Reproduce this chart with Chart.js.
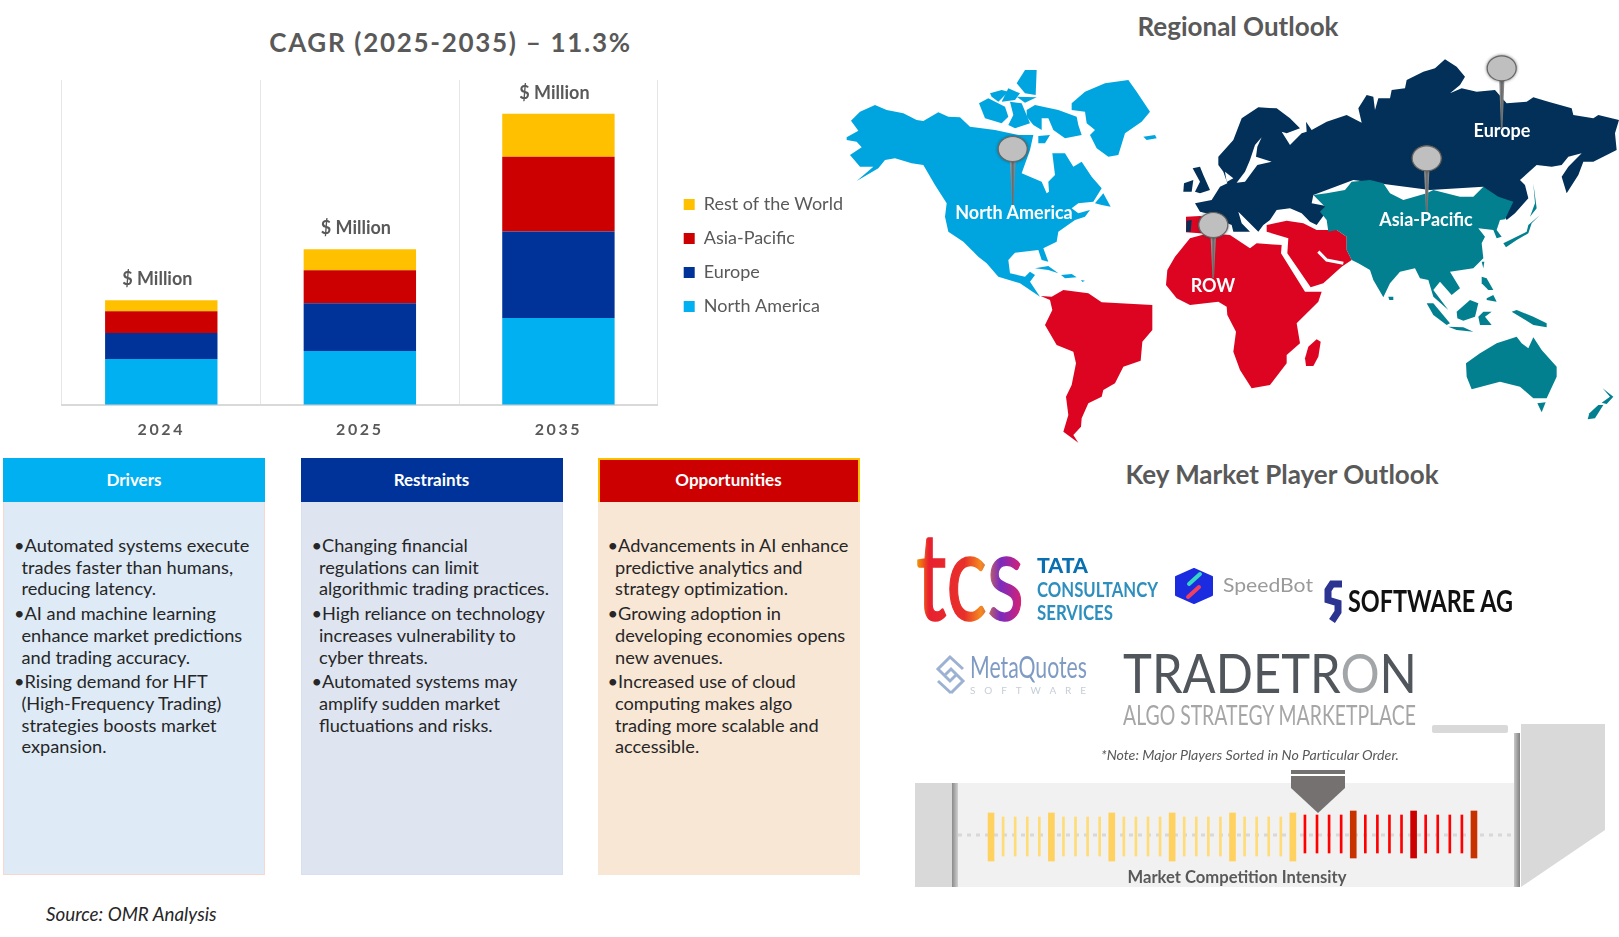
<!DOCTYPE html>
<html>
<head>
<meta charset="utf-8">
<title>CAGR (2025-2035)</title>
<script src="https://cdn.jsdelivr.net/npm/chart.js@4"></script>
<style>
  html, body { margin: 0; padding: 0; background: #fff; }
  #page { position: relative; width: 1619px; height: 937px; overflow: hidden; font-family: Lato, sans-serif; }
  canvas, svg { position: absolute; }
  .lbl { position: absolute; transform: translate(-50%, -50%); white-space: nowrap; }
  .title { color: #595959; font-weight: 700; font-size: 26px; }
  .pin { color: #fff; font-weight: 700; font-size: 18px; }
  .head { position: absolute; top: 458px; width: 262px; height: 44px; line-height: 44px; color: #fff; font-weight: 700; font-size: 17px; text-align: center; box-sizing: border-box; }
  .body { position: absolute; top: 502px; width: 262px; height: 373px; box-sizing: border-box; padding: 33px 0 0 9px; font-size: 18.2px; line-height: 21.7px; color: #262626; white-space: nowrap; }
  .body div { margin-bottom: 3px; padding-left: 8.5px; text-indent: -7.5px; }
</style>
</head>
<body>
<div id="page">
  <div class="lbl title" style="left:450.5px;top:42px;letter-spacing:1.7px">CAGR (2025-2035) – 11.3%</div>
  <div class="lbl title" style="left:1238px;top:26px">Regional Outlook</div>
  <div class="lbl title" style="left:1282px;top:474px">Key Market Player Outlook</div>

  <canvas id="marketChart" width="860" height="374" style="left:0;top:80px"></canvas>

  <div class="head" style="left:3px;background:#00b0f0">Drivers</div>
  <div class="body" style="left:3px;background:#deebf7;border:1px solid #f8d7cf;border-top:0">
    <div>•Automated systems execute<br>trades faster than humans,<br>reducing latency.</div>
    <div>•AI and machine learning<br>enhance market predictions<br>and trading accuracy.</div>
    <div>•Rising demand for HFT<br>(High-Frequency Trading)<br>strategies boosts market<br>expansion.</div>
  </div>
  <div class="head" style="left:300.5px;background:#003399">Restraints</div>
  <div class="body" style="left:300.5px;background:#dee5f1;border:1px solid #d6e0ee;border-top:0">
    <div>•Changing financial<br>regulations can limit<br>algorithmic trading practices.</div>
    <div>•High reliance on technology<br>increases vulnerability to<br>cyber threats.</div>
    <div>•Automated systems may<br>amplify sudden market<br>fluctuations and risks.</div>
  </div>
  <div class="head" style="left:597.5px;background:#cc0000;border:2px solid #ffc000;border-bottom:0;line-height:40px">Opportunities</div>
  <div class="body" style="left:597.5px;background:#f9e7d6">
    <div>•Advancements in AI enhance<br>predictive analytics and<br>strategy optimization.</div>
    <div>•Growing adoption in<br>developing economies opens<br>new avenues.</div>
    <div>•Increased use of cloud<br>computing makes algo<br>trading more scalable and<br>accessible.</div>
  </div>
  <div class="lbl" style="left:46px;top:913px;transform:translateY(-50%);font-style:italic;font-size:18.8px;color:#262626">Source: OMR Analysis</div>

  <!-- world map outlines, each group traced at 3x from its own corner -->
  <svg style="left:0;top:0;filter:blur(.3px)" width="1619" height="937">
    <defs>
      <filter id="pinShadow" x="-40%" y="-40%" width="180%" height="180%"><feDropShadow dx="0" dy="0" stdDeviation="1.5" flood-color="#333" flood-opacity=".7"/></filter>
      <linearGradient id="needle" x1="0" y1="0" x2="1" y2="0"><stop offset="0" stop-color="#aaa"/><stop offset=".5" stop-color="#666"/><stop offset="1" stop-color="#999"/></linearGradient>
    </defs>
    <g transform="translate(845 60) scale(.33333)" fill="#00a5df">
      <path d="M5,232 L40,212 L18,182 L45,155 L90,135 L125,150 L175,160 L215,180 L235,183 L280,157 L310,170 L345,172 L375,200 L410,205 L450,210 L520,225 L565,225 L555,270 L530,340 L590,365 L605,400 L612,395 L610,365 L630,345 L622,280 L660,280 L685,320 L710,305 L740,350 L770,385 L745,425 L700,430 L680,445 L700,460 L735,450 L720,470 L690,480 L640,515 L635,545 L595,565 L610,605 L590,600 L580,570 L510,578 L490,600 L495,640 L540,650 L555,635 L570,645 L555,665 L585,710 L525,670 L460,650 L425,610 L400,590 L355,545 L310,515 L300,470 L305,430 L270,375 L235,315 L200,310 L150,295 L120,300 L100,325 L35,363 L85,320 L45,320 L15,285 L50,262 L35,245 L5,240 Z"/>
      <path d="M515,70 L540,30 L575,30 L572,105 L540,100 Z"/>
      <path d="M435,100 L470,90 L490,95 L460,125 L440,110 Z"/>
      <path d="M490,85 L525,100 L510,120 L470,125 Z"/>
      <path d="M515,110 L575,112 L540,128 Z"/>
      <path d="M402,130 L430,115 L480,140 L490,170 L470,190 L420,175 Z"/>
      <path d="M495,125 L530,130 L555,190 L510,205 L490,195 L505,165 Z"/>
      <path d="M545,150 L570,135 L640,150 L695,170 L700,195 L710,225 L660,235 L625,210 L610,175 L590,175 L590,210 L565,195 L545,170 Z"/>
      <path d="M580,228 L615,225 L600,250 L580,250 Z"/>
      <path d="M680,130 L720,95 L780,70 L850,60 L875,95 L895,125 L915,155 L890,185 L840,220 L820,285 L790,290 L755,265 L735,225 L750,210 L725,190 L720,155 L680,150 Z"/>
      <path d="M895,230 L930,225 L935,235 L905,240 Z"/>
      <path d="M750,430 L775,400 L797,440 L770,435 Z"/>
      <path d="M570,625 L610,618 L640,640 L610,630 Z"/>
      <path d="M648,645 L680,642 L695,652 L660,655 Z"/>
      <path d="M708,660 L720,662 L712,666 Z"/>
      <path d="M370,570 L385,575 L410,622 L395,615 Z" fill="#fff"/>
    </g>
    <g transform="translate(1020 270) scale(.33333)" fill="#dc0420">
      <path d="M62,78 L95,80 L130,60 L205,70 L245,97 L397,105 L397,180 L367,215 L362,272 L310,290 L285,340 L250,360 L245,380 L205,400 L185,445 L183,470 L160,495 L175,518 L130,485 L145,435 L138,380 L155,345 L168,280 L160,245 L110,225 L75,165 L97,120 L90,90 Z"/>
    </g>
    <g transform="translate(1170 50) scale(.33333)" fill="#023059">
      <path d="M75,460 L125,450 L150,410 L172,400 L160,365 L145,345 L145,320 L190,270 L215,205 L265,172 L320,175 L360,205 L390,235 L350,250 L335,245 L360,285 L395,250 L410,245 L408,215 L425,240 L470,215 L530,195 L575,218 L565,175 L590,135 L610,140 L615,180 L625,145 L660,145 L665,120 L705,115 L710,90 L760,65 L795,55 L825,28 L860,50 L885,80 L870,105 L840,130 L875,115 L920,125 L975,120 L1010,160 L1070,155 L1090,142 L1135,155 L1205,175 L1210,195 L1270,205 L1285,195 L1347,210 L1335,250 L1340,300 L1270,335 L1240,335 L1225,375 L1190,430 L1175,380 L1195,350 L1235,310 L1195,320 L1175,345 L1145,350 L1100,345 L1050,390 L1065,405 L1075,445 L1035,490 L1010,510 L985,470 L940,410 L780,420 L550,390 L430,435 L425,460 L480,470 L440,525 L420,515 L395,490 L360,475 L320,480 L300,510 L280,525 L265,545 L235,515 L205,485 L215,520 L240,545 L190,545 L185,525 L150,510 L130,495 L90,485 Z"/>
      <path d="M68,355 L90,350 L100,375 L120,420 L90,430 L75,425 L90,395 Z"/>
      <path d="M42,400 L70,390 L65,425 L40,425 Z"/>
      <path d="M275,262 L255,285 L240,330 L225,365 L200,398 L225,395 L262,345 L305,335 L258,320 L262,290 Z" fill="#fff"/>
      <path d="M165,365 L190,385 L170,396 Z" fill="#fff"/>
    </g>
    <g transform="translate(1150 200) scale(.33333)">
      <g fill="#dc0420">
        <path d="M52,210 L75,170 L120,115 L175,100 L240,105 L300,145 L320,130 L395,135 L393,160 L465,275 L515,275 L505,305 L440,370 L450,430 L410,465 L410,490 L360,555 L305,565 L270,510 L250,455 L258,395 L232,345 L230,320 L205,305 L120,315 L80,295 L48,255 Z"/>
        <path d="M350,75 L410,62 L460,70 L500,90 L560,90 L590,110 L590,150 L605,180 L575,200 L520,250 L482,262 L412,160 L415,115 L350,95 Z"/>
        <path d="M500,418 L512,425 L505,470 L490,498 L468,498 L465,475 L475,440 Z"/>
        <path d="M108,50 L150,48 L235,65 L225,98 L150,100 L108,97 Z"/>
      </g>
      <path d="M110,62 L125,60 L122,95 L108,95 Z" fill="#023059"/>
      <path d="M505,155 L530,180 L580,190" fill="none" stroke="#fff" stroke-width="9"/>
      <g fill="#03808f">
        <path d="M490,-15 L530,-20 L585,-30 L605,-55 L660,-60 L700,-50 L720,-20 L760,0 L830,-20 L850,-30 L930,-10 L970,-10 L1000,-40 L1045,-10 L1090,5 L1065,58 L1050,60 L1040,90 L1055,110 L1040,115 L1030,90 L985,85 L1005,110 L995,130 L1000,175 L970,205 L900,215 L930,265 L905,285 L870,245 L850,270 L895,330 L850,290 L835,240 L810,235 L795,205 L750,215 L720,250 L700,292 L670,240 L660,210 L625,190 L605,180 L590,150 L590,110 L560,90 L535,95 L530,60 L510,35 L525,20 Z"/>
        <path d="M715,290 L730,290 L730,300 L718,300 Z"/>
        <path d="M1170,45 L1135,75 L1130,95 L1080,120 L1060,130 L1068,142 L1100,120 L1135,100 L1145,70 Z"/>
        <path d="M1150,-50 L1160,25 L1140,50 L1155,10 Z"/>
        <path d="M995,185 L1003,185 L1000,205 Z"/>
        <path d="M995,230 L1010,235 L1030,270 L1015,270 L995,250 Z"/>
        <path d="M1010,295 L1030,285 L1040,305 L1010,300 Z"/>
        <path d="M920,335 L960,300 L985,310 L975,350 L940,362 L922,355 Z"/>
        <path d="M830,310 L850,310 L900,370 L890,375 L850,345 Z"/>
        <path d="M895,380 L940,382 L970,395 L920,390 Z"/>
        <path d="M985,350 L1000,335 L1025,335 L1005,350 L1025,375 L990,375 Z"/>
        <path d="M1085,335 L1100,330 L1150,350 L1190,370 L1190,382 L1150,375 L1110,350 Z"/>
        <path d="M948,490 L990,460 L1040,430 L1100,410 L1115,430 L1135,445 L1150,412 L1175,450 L1220,500 L1220,530 L1190,595 L1150,595 L1110,560 L1050,545 L965,568 L950,530 Z"/>
        <path d="M1162,610 L1187,607 L1175,637 Z"/>
        <path d="M1358,565 L1390,590 L1370,612 L1355,608 L1380,590 Z"/>
        <path d="M1345,615 L1360,615 L1335,655 L1313,658 L1318,640 Z"/>
      </g>
    </g>
    <g fill="url(#needle)">
      <polygon points="1010,158 1015.5,158 1013.5,205 1012,205"/>
      <polygon points="1499,77 1504.5,77 1502.5,128 1501,128"/>
      <polygon points="1424,167 1429.5,167 1427.5,213 1426,213"/>
      <polygon points="1210.5,234 1216,234 1214,278 1212.5,278"/>
    </g>
    <g fill="#bfbfbf" stroke="#666" stroke-width="1.2" filter="url(#pinShadow)">
      <ellipse cx="1012.7" cy="149" rx="14.5" ry="12.5"/>
      <ellipse cx="1501.7" cy="68.3" rx="14.5" ry="12.5"/>
      <ellipse cx="1426.7" cy="158.3" rx="14.5" ry="12.5"/>
      <ellipse cx="1213.3" cy="225" rx="14.5" ry="12.5"/>
    </g>
  </svg>
  <div class="lbl pin" style="left:1014px;top:212px">North America</div>
  <div class="lbl pin" style="left:1426px;top:219px">Asia-Pacific</div>
  <div class="lbl pin" style="left:1502px;top:130px">Europe</div>
  <div class="lbl pin" style="left:1213px;top:285px">ROW</div>

  <!-- player logos, redrawn roughly as text -->
  <svg style="left:0;top:0;filter:blur(.4px)" width="1619" height="937" font-family="Lato, sans-serif">
    <defs>
      <linearGradient id="tcsGrad" x1="0" y1="0" x2="1" y2="0">
        <stop offset="0" stop-color="#f2a100"/><stop offset=".12" stop-color="#e8202f"/><stop offset=".45" stop-color="#e8302a"/><stop offset=".6" stop-color="#f58a1f"/><stop offset=".78" stop-color="#7a2bc0"/><stop offset="1" stop-color="#e0206a"/>
      </linearGradient>
    </defs>
    <text x="916" y="620" font-size="122" fill="url(#tcsGrad)" stroke="url(#tcsGrad)" stroke-width="1.5" textLength="108" lengthAdjust="spacingAndGlyphs">tcs</text>
    <text x="1037" y="573" font-size="20" font-weight="900" fill="#0a6fb0" textLength="51" lengthAdjust="spacingAndGlyphs">TATA</text>
    <text x="1037" y="597" font-size="21" font-weight="700" fill="#2e8fbe" textLength="121" lengthAdjust="spacingAndGlyphs">CONSULTANCY</text>
    <text x="1037" y="620" font-size="21" font-weight="700" fill="#2e8fbe" textLength="76" lengthAdjust="spacingAndGlyphs">SERVICES</text>

    <path d="M1194,569 L1212,577 L1212,595 L1194,603 L1176,595 L1176,577 Z" fill="#1a2be0" stroke="#1a2be0" stroke-width="2" stroke-linejoin="round"/>
    <path d="M1189,584 L1200,574" stroke="#37d6c2" stroke-width="4" stroke-linecap="round"/>
    <path d="M1188,597 L1199,587" stroke="#f0405f" stroke-width="4" stroke-linecap="round"/>
    <text x="1223" y="592" font-size="19" fill="#9a9a9a" textLength="90" lengthAdjust="spacingAndGlyphs">SpeedBot</text>

    <path d="M1342,584 L1332,584 L1328,590 L1328,600 L1338,603 L1338,612 L1332,621" fill="none" stroke="#2b3490" stroke-width="7"/>
    <text x="1348" y="612" font-size="31" font-weight="700" fill="#111" textLength="165" lengthAdjust="spacingAndGlyphs">SOFTWARE AG</text>

    <path d="M950,657 L938,669 L950,681 L956,675 M951,693 L963,681 L951,669 L945,675 M944,663 L950,657 L963,669 M938,681 L951,693" fill="none" stroke="#9db2d2" stroke-width="3"/>
    <text x="970" y="678" font-size="31" fill="#7f9bc4" textLength="117" lengthAdjust="spacingAndGlyphs">MetaQuotes</text>
    <text x="970" y="694" font-size="10" fill="#c5ced8" textLength="116" lengthAdjust="spacing">SOFTWARE</text>

    <text x="1123" y="693" font-size="55" fill="#50565c" textLength="294" lengthAdjust="spacingAndGlyphs">TRADETR<tspan fill="#a3a6a8">O</tspan>N</text>
    <text x="1123" y="725" font-size="26" fill="#a6a6a6" textLength="293" lengthAdjust="spacingAndGlyphs">ALGO STRATEGY MARKETPLACE</text>
  </svg>

  <!-- intensity strip -->
  <svg style="left:0;top:0" width="1619" height="937">
    <defs>
      <linearGradient id="edge" x1="0" y1="0" x2="1" y2="0"><stop offset="0" stop-color="#8a8a8a"/><stop offset="1" stop-color="#d0d0d0"/></linearGradient>
      <linearGradient id="edgeR" x1="0" y1="0" x2="1" y2="0"><stop offset="0" stop-color="#c8c8c8"/><stop offset="1" stop-color="#808080"/></linearGradient>
    </defs>
    <rect x="952" y="783" width="568" height="104" fill="#f1f1f1"/>
    <rect x="915" y="783" width="37" height="104" fill="#d9d9d9"/>
    <rect x="952" y="783" width="6" height="104" fill="url(#edge)"/>
    <rect x="1432" y="725" width="76" height="8" rx="2" fill="#d9d9d9"/>
    <polygon points="1521,724 1605,724 1605,830 1521,887" fill="#d9d9d9"/>
    <rect x="1514" y="733" width="6" height="154" fill="url(#edgeR)"/>
    <line x1="958" y1="835" x2="1514" y2="835" stroke="#d8d8d8" stroke-width="3" stroke-dasharray="4 5"/>
    <rect x="1291" y="770" width="54" height="4" fill="#767171"/>
    <polygon points="1291,776 1345,776 1345,788 1318,813 1291,788" fill="#767171"/>
  </svg>
  <canvas id="intensityChart" width="495" height="105" style="left:985px;top:783px"></canvas>
  <div class="lbl" style="left:1250px;top:754px;font-style:italic;font-size:14.2px;color:#595959">*Note: Major Players Sorted in No Particular Order.</div>
  <div class="lbl" style="left:1237px;top:876.5px;font-weight:700;font-size:16.6px;color:#595959">Market Competition Intensity</div>
</div>

<script>
const years = ['2024', '2025', '2035'];
const northAmerica = [46, 54, 87];
const europe = [26, 48, 87];
const asiaPacific = [22, 33, 75];
const restOfWorld = [11, 21, 43];
const unitLabel = '$ Million';

// tick strip: [low, high] of each tick, one row per five ticks
const majorTicks = [
    [27, 75], null, null, null, null,
    [27, 75], null, null, null, null,
    [27, 75], null, null, null, null,
    [27, 75], null, null, null, null,
    [27, 75], null, null, null, null,
    [27, 75], null, null, null, null,
    [30, 77], null, null, null, null,
    [30, 77], null, null, null, null,
    [30, 77]
];
const minorTicks = [
    null, [32, 71], [32, 71], [32, 71], [32, 71],
    null, [32, 71], [32, 71], [32, 71], [32, 71],
    null, [32, 71], [32, 71], [32, 71], [32, 71],
    null, [32, 71], [32, 71], [32, 71], [32, 71],
    null, [32, 71], [32, 71], [32, 71], [32, 71],
    null, [35, 73], [35, 73], [35, 73], [35, 73],
    null, [35, 73], [35, 73], [35, 73], [35, 73],
    null, [35, 73], [35, 73], [35, 73], [35, 73],
    null
];

// moves the legend to its place and writes the unit above each stack
const stackLabels = {
    id: 'stackLabels',
    afterLayout(chart) {
        const legend = chart.legend;
        const dx = chart.chartArea.right + 10 - legend.left;
        const dy = 175.5 - (legend.top + legend.bottom) / 2;
        legend.left += dx;
        legend.right += dx;
        legend.top += dy;
        legend.bottom += dy;
    },
    afterDatasetsDraw(chart) {
        chart.ctx.letterSpacing = '2.6px';
    },
    afterDraw(chart) {
        const ctx = chart.ctx;
        ctx.letterSpacing = '0px';
        const top = chart.getDatasetMeta(3).data;
        ctx.save();
        ctx.font = '700 18px Lato';
        ctx.fillStyle = '#595959';
        ctx.textAlign = 'center';
        top.forEach((bar) => ctx.fillText(unitLabel, bar.x - 4, bar.y - 15));
        ctx.restore();
    }
};

new Chart(document.getElementById('marketChart'), {
    type: 'bar',
    data: {
        labels: years,
        datasets: [
            { label: 'North America', data: northAmerica, backgroundColor: '#00b0f0' },
            { label: 'Europe', data: europe, backgroundColor: '#003399' },
            { label: 'Asia-Pacific', data: asiaPacific, backgroundColor: '#cc0000' },
            { label: 'Rest of the World', data: restOfWorld, backgroundColor: '#ffc000' }
        ]
    },
    options: {
        responsive: false,
        animation: false,
        barPercentage: 0.566,
        categoryPercentage: 1,
        layout: { padding: { left: 62, right: 17, top: 0, bottom: 0 } },
        plugins: {
            title: { display: false },
            tooltip: { enabled: false },
            legend: {
                position: 'right',
                reverse: true,
                labels: {
                    boxWidth: 11,
                    boxHeight: 11,
                    padding: 16,
                    color: '#595959',
                    font: { family: 'Lato', size: 18 }
                }
            }
        },
        scales: {
            x: {
                stacked: true,
                grid: { color: '#e7e6e6', drawTicks: false },
                border: { color: '#d9d9d9', width: 2 },
                ticks: { z: 1, color: '#595959', padding: 15, font: { family: 'Lato', size: 16, weight: '700' } }
            },
            y: { stacked: true, display: false, min: 0, max: 326 }
        }
    },
    plugins: [stackLabels]
});

const redMajors = ['#c83200', '#cc0000', '#c83200'];

new Chart(document.getElementById('intensityChart'), {
    type: 'bar',
    data: {
        labels: majorTicks.map((t, i) => i + 1),
        datasets: [
            {
                label: 'major',
                data: majorTicks,
                grouped: false,
                barThickness: 6,
                backgroundColor: (c) => c.dataIndex > 25 ? redMajors[(c.dataIndex - 30) / 5] : '#ffd25f'
            },
            {
                label: 'minor',
                data: minorTicks,
                grouped: false,
                barThickness: 2,
                backgroundColor: (c) => c.dataIndex > 25 ? '#ff0000' : '#ffdc78'
            }
        ]
    },
    options: {
        responsive: false,
        animation: false,
        plugins: { legend: { display: false }, tooltip: { enabled: false } },
        scales: {
            x: { display: false },
            y: { display: false, min: 0, max: 105 }
        }
    }
});
</script>
</body>
</html>
